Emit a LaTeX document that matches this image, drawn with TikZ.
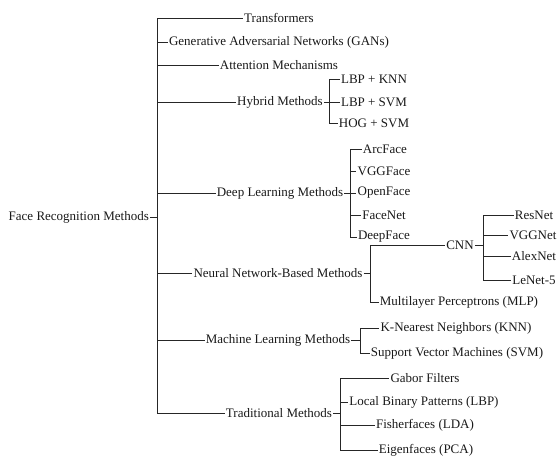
\documentclass[tikz,border=0pt]{standalone}
\usepackage{fontspec}
\setmainfont{Liberation Serif}
\begin{document}
\begin{tikzpicture}[x=1pt,y=-1pt,
  lbl/.style={font=\fontsize{13}{15}\selectfont, text=black!90, inner xsep=1pt, inner ysep=1pt},
  link/.style={draw=black!85, line width=0.85pt}]
\useasboundingbox (0,0) rectangle (558,456);

% root
\node[lbl, anchor=east] (root) at (150,217) {Face Recognition Methods};

% first level, centred on a common column
\node[lbl] (tr)  at (279,18)  {Transformers};
\node[lbl] (gan) at (279,42)  {Generative Adversarial Networks (GANs)};
\node[lbl] (att) at (279,65)  {Attention Mechanisms};
\node[lbl] (hyb) at (280,102) {Hybrid Methods};
\node[lbl] (dl)  at (280,193) {Deep Learning Methods};
\node[lbl] (nn)  at (278,273) {Neural Network-Based Methods};
\node[lbl] (ml)  at (278,340) {Machine Learning Methods};
\node[lbl] (tm)  at (279,413) {Traditional Methods};

% hybrid methods
\node[lbl] (h1) at (374,79)  {LBP + KNN};
\node[lbl] (h2) at (374,102) {LBP + SVM};
\node[lbl] (h3) at (374,123) {HOG + SVM};

% deep learning methods
\node[lbl] (d1) at (385,149) {ArcFace};
\node[lbl] (d2) at (384,171) {VGGFace};
\node[lbl] (d3) at (384,193) {OpenFace};
\node[lbl] (d4) at (384,215) {FaceNet};
\node[lbl] (d5) at (384,237) {DeepFace};

% neural network-based methods
\node[lbl] (cnn) at (460,245) {CNN};
\node[lbl] (mlp) at (459,302) {Multilayer Perceptrons (MLP)};

% CNN architectures
\node[lbl] (c1) at (534,215) {ResNet};
\node[lbl] (c2) at (533,235) {VGGNet};
\node[lbl] (c3) at (534,256) {AlexNet};
\node[lbl] (c4) at (534,280) {LeNet-5};

% machine learning methods
\node[lbl] (m1) at (456,328) {K-Nearest Neighbors (KNN)};
\node[lbl] (m2) at (457,353) {Support Vector Machines (SVM)};

% traditional methods
\node[lbl] (t1) at (425,378) {Gabor Filters};
\node[lbl] (t2) at (424,402) {Local Binary Patterns (LBP)};
\node[lbl] (t3) at (425,425) {Fisherfaces (LDA)};
\node[lbl] (t4) at (426,450) {Eigenfaces (PCA)};

% bus lines
\coordinate (b0) at (157,0);
\coordinate (bh) at (329,0);
\coordinate (bd) at (350,0);
\coordinate (bn) at (370,0);
\coordinate (bc) at (483,0);
\coordinate (bm) at (360,0);
\coordinate (bt) at (340,0);

% root to first level
\draw[link] (root.east) -- (root.east -| b0);
\draw[link] (tr.west -| b0) -- (tm.west -| b0);
\foreach \n in {tr,gan,att,hyb,dl,nn,ml,tm}
  \draw[link] (\n.west -| b0) -- (\n.west);

% hybrid
\draw[link] (hyb.east) -- (hyb.east -| bh);
\draw[link] (h1.west -| bh) -- (h3.west -| bh);
\foreach \n in {h1,h2,h3}
  \draw[link] (\n.west -| bh) -- (\n.west);

% deep learning
\draw[link] (dl.east) -- (dl.east -| bd);
\draw[link] (d1.west -| bd) -- (d5.west -| bd);
\foreach \n in {d1,d2,d3,d4,d5}
  \draw[link] (\n.west -| bd) -- (\n.west);

% neural network-based
\draw[link] (nn.east) -- (nn.east -| bn);
\draw[link] (cnn.west -| bn) -- (mlp.west -| bn);
\foreach \n in {cnn,mlp}
  \draw[link] (\n.west -| bn) -- (\n.west);

% CNN
\draw[link] (cnn.east) -- (cnn.east -| bc);
\draw[link] (c1.west -| bc) -- (c4.west -| bc);
\foreach \n in {c1,c2,c3,c4}
  \draw[link] (\n.west -| bc) -- (\n.west);

% machine learning
\draw[link] (ml.east) -- (ml.east -| bm);
\draw[link] (m1.west -| bm) -- (m2.west -| bm);
\foreach \n in {m1,m2}
  \draw[link] (\n.west -| bm) -- (\n.west);

% traditional
\draw[link] (tm.east) -- (tm.east -| bt);
\draw[link] (t1.west -| bt) -- (t4.west -| bt);
\foreach \n in {t1,t2,t3,t4}
  \draw[link] (\n.west -| bt) -- (\n.west);
\end{tikzpicture}
\end{document}
